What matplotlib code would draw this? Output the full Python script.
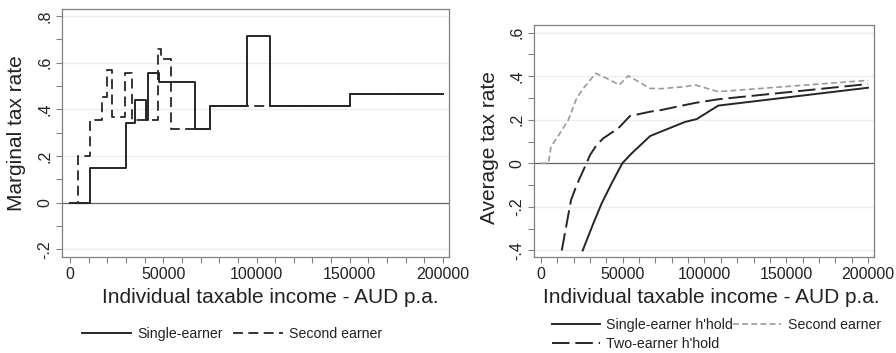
import matplotlib
matplotlib.use("Agg")
import matplotlib.pyplot as plt
from matplotlib.ticker import MultipleLocator

plt.rcParams['font.family'] = ['Liberation Sans', 'DejaVu Sans']

# marginal tax rates (step functions, value holds from x to next x)
mtr_single_x = [0, 10900, 30000, 34900, 40800, 41800, 47900, 67200, 74800, 95000, 107400, 150000, 200000]
mtr_single_y = [0, 0.15, 0.34, 0.44, 0.355, 0.555, 0.515, 0.315, 0.415, 0.715, 0.415, 0.465, 0.465]

mtr_second_x = [0, 4100, 10900, 17100, 19900, 22400, 29700, 33500, 47400, 48600, 53900, 74800, 150000, 200000]
mtr_second_y = [0, 0.2, 0.353, 0.453, 0.567, 0.367, 0.557, 0.356, 0.658, 0.617, 0.315, 0.415, 0.465, 0.465]

# average tax rates
atr_second_x = [0, 4500, 6100, 9600, 16700, 21800, 25900, 33400, 40200, 47900, 53400, 66700, 73800, 88100, 94200, 108400, 200000]
atr_second_y = [0, 0, 0.076, 0.115, 0.199, 0.299, 0.344, 0.413, 0.39, 0.36, 0.402, 0.344, 0.343, 0.352, 0.36, 0.329, 0.381]

atr_two_x = [12700, 18350, 21800, 26900, 30000, 34000, 38100, 47300, 54400, 66700, 73800, 85000, 94800, 108400, 200000]
atr_two_y = [-0.4, -0.169, -0.1, -0.015, 0.038, 0.084, 0.115, 0.161, 0.217, 0.237, 0.245, 0.263, 0.278, 0.294, 0.364]

atr_single_x = [25500, 32000, 37100, 43200, 49700, 55500, 66700, 74800, 88100, 95200, 108400, 200000]
atr_single_y = [-0.4, -0.276, -0.184, -0.092, 0.0, 0.046, 0.125, 0.15, 0.19, 0.203, 0.265, 0.347]

mtr_yticks = [-0.2, 0, 0.2, 0.4, 0.6, 0.8]
mtr_ylabels = ['-.2', '0', '.2', '.4', '.6', '.8']
atr_yticks = [-0.4, -0.2, 0, 0.2, 0.4, 0.6]
atr_ylabels = ['-.4', '-.2', '0', '.2', '.4', '.6']
xticks = [0, 50000, 100000, 150000, 200000]

W, H = 896, 353
fig = plt.figure(figsize=(8.96, 3.53), dpi=100)
ax1 = fig.add_axes([62 / W, 1 - 257 / H, 387 / W, 248 / H])
ax2 = fig.add_axes([534 / W, 1 - 257 / H, 340 / W, 232 / H])

dark = '#262626'
frame = '#808080'
txt = '#222222'


def style(ax, yticks, ylabels):
    ax.set_yticks(yticks)
    ax.set_yticklabels(ylabels, rotation=90, va='center')
    ax.yaxis.set_minor_locator(MultipleLocator(0.1))
    ax.set_xticks(xticks)
    ax.set_xticklabels([str(v) for v in xticks])
    ax.xaxis.set_minor_locator(MultipleLocator(10000))
    ax.tick_params(which='both', length=4, width=0.8, color=frame, labelsize=11.5,
                   labelcolor=txt, pad=3)
    for s in ax.spines.values():
        s.set_color(frame)
        s.set_linewidth(0.9)
    for y in yticks:
        ax.axhline(y, color='#eeeeee', lw=1, zorder=0)
    ax.axhline(0, color='#666666', lw=0.9, zorder=1)


# left panel
style(ax1, mtr_yticks, mtr_ylabels)
ax1.step(mtr_second_x, mtr_second_y, where='post', color=dark, lw=1.3,
         dashes=(5.5, 3), label='Second earner', zorder=2)
ax1.step(mtr_single_x, mtr_single_y, where='post', color=dark, lw=1.4,
         label='Single-earner', zorder=3)
ax1.set_xlim(-4290, 203200)
ax1.set_ylim(-0.233, 0.83)
ax1.set_ylabel('Marginal tax rate', fontsize=15, color=txt, va='center')
ax1.yaxis.set_label_coords(-0.117, 0.5)
ax1.set_xlabel('Individual taxable income - AUD p.a.', fontsize=15, color=txt, va='center')
ax1.xaxis.set_label_coords(0.537, -0.165)

# right panel
style(ax2, atr_yticks, atr_ylabels)
l_second, = ax2.plot(atr_second_x, atr_second_y, color='#9a9a9a', lw=1.2,
                     dashes=(3.5, 2), label='Second earner', zorder=2)
l_two, = ax2.plot(atr_two_x, atr_two_y, color=dark, lw=1.4,
                  dashes=(9, 3), label="Two-earner h'hold", zorder=3)
l_single, = ax2.plot(atr_single_x, atr_single_y, color=dark, lw=1.4,
                     label="Single-earner h'hold", zorder=4)
ax2.set_xlim(-4280, 203670)
ax2.set_ylim(-0.43, 0.635)
ax2.set_ylabel('Average tax rate', fontsize=15, color=txt, va='center')
ax2.yaxis.set_label_coords(-0.132, 0.471)
ax2.set_xlabel('Individual taxable income - AUD p.a.', fontsize=15, color=txt, va='center')
ax2.xaxis.set_label_coords(0.522, -0.175)

# legends
h1, lab1 = ax1.get_legend_handles_labels()
leg1 = fig.legend(h1[::-1], lab1[::-1], ncol=2, loc='center left',
                  bbox_to_anchor=(81.7 / W, 1 - 334 / H), frameon=False,
                  fontsize=10.2, handlelength=3.5, handletextpad=0.45,
                  columnspacing=0.7, borderpad=0, borderaxespad=0)
leg2 = fig.legend([l_single, l_two, l_second],
                  ["Single-earner h'hold", "Two-earner h'hold", 'Second earner'],
                  ncol=2, loc='center left',
                  bbox_to_anchor=(551.7 / W, 1 - 334.3 / H), frameon=False,
                  fontsize=10.2, handlelength=3.4, handletextpad=0.45,
                  columnspacing=0.0, labelspacing=0.35, borderpad=0, borderaxespad=0)
for leg in (leg1, leg2):
    for t in leg.get_texts():
        t.set_color(txt)

fig.savefig('out.png', dpi=100)
